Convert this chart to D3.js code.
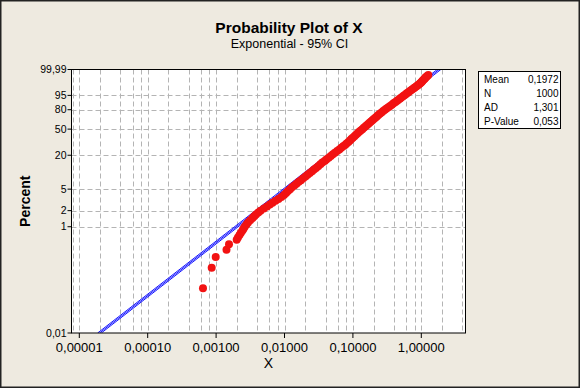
<!DOCTYPE html>
<html><head><meta charset="utf-8">
<script src="https://cdn.jsdelivr.net/npm/d3@7"></script>
<style>body{margin:0;background:#EEEAE0}svg{display:block}</style>
</head><body><svg id="c" width="580" height="388"></svg>
<script>
// ---- data (X value, plotted percent) ----
const percent = [0.07,0.17,0.27,0.37,0.47,
 0.57,0.63,0.7,0.77,0.85,0.92,1.0,1.1,1.2,1.32,1.45,1.57,1.7,1.85,2.0,2.2,2.4,2.6,2.8,3.05,3.3,3.6,3.9,4.25,4.6,5.0,5.4,5.85,6.3,6.8,7.3,7.9,8.5,9.1,9.8,10.5,11.3,12.1,13,14,15,16,17,18.2,19.5,20.7,22,23.5,25,26.5,28,29.5,31,32.7,34.5,36.2,38,40,42,44,46,48,50,52,54,56,58,60,62,64,66,68,70,72,74,76,78,79.8,81.5,83.3,85,86.5,88,89.3,90.5,91.5,92.5,93.4,94.2,94.9,95.6,96.2,96.7,97.2,97.6,98.0,98.3,98.55,98.8,99.0,99.15,99.3,99.4,99.5,99.58,99.65,99.72,99.77,99.82,99.85,99.88,99.905,99.93];
const xValues = [0.000643,0.000862,0.000987,0.001419,0.001544,
 0.00200,0.002086,0.00220,0.002306,0.00243,0.002517,0.00262,0.002779,0.00293,0.003152,0.00341,0.003608,0.00383,0.004143,0.00446,0.004988,0.00555,0.006104,0.00668,0.007397,0.00817,0.009001,0.00983,0.010551,0.01125,0.012047,0.01287,0.013921,0.01497,0.016165,0.01742,0.01876,0.02028,0.02175,0.02344,0.025289,0.02700,0.028917,0.03109,0.03346,0.03569,0.03868,0.04084,0.044251,0.04753,0.050951,0.05455,0.058848,0.06326,0.067636,0.07215,0.076791,0.08089,0.085954,0.0907,0.094829,0.0997,0.105268,0.1110,0.117084,0.1236,0.130244,0.1372,0.144305,0.1518,0.159469,0.1674,0.175272,0.1839,0.192807,0.2021,0.212562,0.2236,0.234963,0.2474,0.261727,0.2773,0.29334,0.3099,0.33,0.3499,0.371591,0.3923,0.414724,0.4384,0.457438,0.4850,0.504385,0.5347,0.558097,0.5875,0.613278,0.6434,0.67478,0.7070,0.740593,0.7770,0.801472,0.8423,0.878171,0.9101,0.946186,0.9734,0.9999,1.024,1.042678,1.077,1.108,1.133,1.147615,1.191,1.2198,1.266];
const yTicks = [0.01,1,2,5,20,50,80,95,99.99];
const yTickLabels = ["0,01","1","2","5","20","50","80","95","99,99"];
const xTicks = [0.00001,0.0001,0.001,0.01,0.1,1];
const xTickLabels = ["0,00001","0,00010","0,00100","0,01000","0,10000","1,00000"];
const minorMultipliers = [2,4,6,8];
const statNames = ["Mean","N","AD","P-Value"];
const statValues = ["0,1972","1000","1,301","0,053"];
const ciMeans = [0.1854, 0.1972, 0.2098];

// ---- layout ----
const svg = d3.select("#c");
const L = 71.5, R = 465.5, T = 69.5, B = 333;
const tr = p => Math.log10(-Math.log(1 - p/100));
const x = d3.scaleLog().domain([Math.pow(10,-5.114), Math.pow(10,0.646)]).range([L, R]);
const y = d3.scaleLinear().domain([tr(0.01), tr(99.99)]).range([B, T]);
const font = "'Liberation Sans', Arial, sans-serif";

svg.append("rect").attr("x",0.75).attr("y",0.75).attr("width",578.5).attr("height",386.5)
  .attr("fill","#EEEAE0").attr("stroke","#222").attr("stroke-width",1.5);

svg.append("rect").attr("x",L).attr("y",T).attr("width",R-L).attr("height",B-T).attr("fill","#fff");

// gridlines
const grid = svg.append("g").attr("stroke","#B4B4B4").attr("stroke-width",1).attr("stroke-dasharray","5,3");
const xGrid = [];
xTicks.forEach(t => { xGrid.push(t); minorMultipliers.forEach(m => xGrid.push(t*m)); });
[0.000001,10].forEach(t => { xGrid.push(t); minorMultipliers.forEach(m => xGrid.push(t*m)); });
xGrid.filter(v => x(v) > L+1 && x(v) < R-1).forEach(v => {
  const px = Math.round(x(v)) + 0.5;
  grid.append("line").attr("x1",px).attr("x2",px).attr("y1",T).attr("y2",B);
});
yTicks.filter(p => p>0.01 && p<99.99).forEach(p => {
  const py = Math.round(y(tr(p))) + 0.5;
  grid.append("line").attr("x1",L).attr("x2",R).attr("y1",py).attr("y2",py);
});

// fit + CI lines
svg.append("clipPath").attr("id","pc").append("rect").attr("x",L).attr("y",T).attr("width",R-L).attr("height",B-T);
const lines = svg.append("g").attr("clip-path","url(#pc)");
ciMeans.forEach((m,i) => {
  const y0 = tr(0.01), y1 = tr(99.99);
  lines.append("line")
    .attr("x1", x(m*Math.pow(10,y0))).attr("y1", y(y0))
    .attr("x2", x(m*Math.pow(10,y1))).attr("y2", y(y1))
    .attr("stroke", "#1414FF").attr("stroke-width", 1);
});

// points
svg.append("g").selectAll("circle").data(percent).join("circle")
  .attr("cx",(d,i)=>x(xValues[i])).attr("cy",d=>y(tr(d))).attr("r",4).attr("fill","#F21212");

// frame
svg.append("rect").attr("x",L).attr("y",T).attr("width",R-L).attr("height",B-T)
  .attr("fill","none").attr("stroke","#000").attr("stroke-width",1);

// y axis ticks
yTicks.forEach((p,i) => {
  const py = y(tr(p));
  svg.append("line").attr("x1",L-4).attr("x2",L).attr("y1",py).attr("y2",py).attr("stroke","#000");
  svg.append("text").attr("x",L-5).attr("y",py+3.5).attr("text-anchor","end")
    .attr("font-family",font).attr("font-size",10.5).attr("fill","#000").text(yTickLabels[i]);
});
// x axis ticks
xTicks.forEach((t,i) => {
  const px = x(t);
  svg.append("line").attr("x1",px).attr("x2",px).attr("y1",B).attr("y2",B+5).attr("stroke","#000");
  svg.append("text").attr("x",px).attr("y",351.5).attr("text-anchor","middle")
    .attr("font-family",font).attr("font-size",13).attr("fill","#000").text(xTickLabels[i]);
});

// titles
svg.append("text").attr("x",289).attr("y",33.3).attr("text-anchor","middle")
  .attr("font-family",font).attr("font-size",15.5).attr("font-weight","bold").text("Probability Plot of X");
svg.append("text").attr("x",289.5).attr("y",48).attr("text-anchor","middle")
  .attr("font-family",font).attr("font-size",12.5).text("Exponential - 95% CI");
svg.append("text").attr("transform",`translate(30,${(T+B)/2}) rotate(-90)`).attr("text-anchor","middle")
  .attr("font-family",font).attr("font-size",14).attr("font-weight","bold").text("Percent");
svg.append("text").attr("x",(L+R)/2).attr("y",368).attr("text-anchor","middle")
  .attr("font-family",font).attr("font-size",14).text("X");

// stats box
svg.append("rect").attr("x",478.5).attr("y",71.5).attr("width",82).attr("height",57)
  .attr("fill","#fff").attr("stroke","#000").attr("stroke-width",1);
statNames.forEach((n,i) => {
  const by = 82.5 + i*14.2;
  svg.append("text").attr("x",484).attr("y",by).attr("font-family",font).attr("font-size",10).text(n);
  svg.append("text").attr("x",558.5).attr("y",by).attr("text-anchor","end").attr("font-family",font).attr("font-size",10).text(statValues[i]);
});
</script></body></html>
